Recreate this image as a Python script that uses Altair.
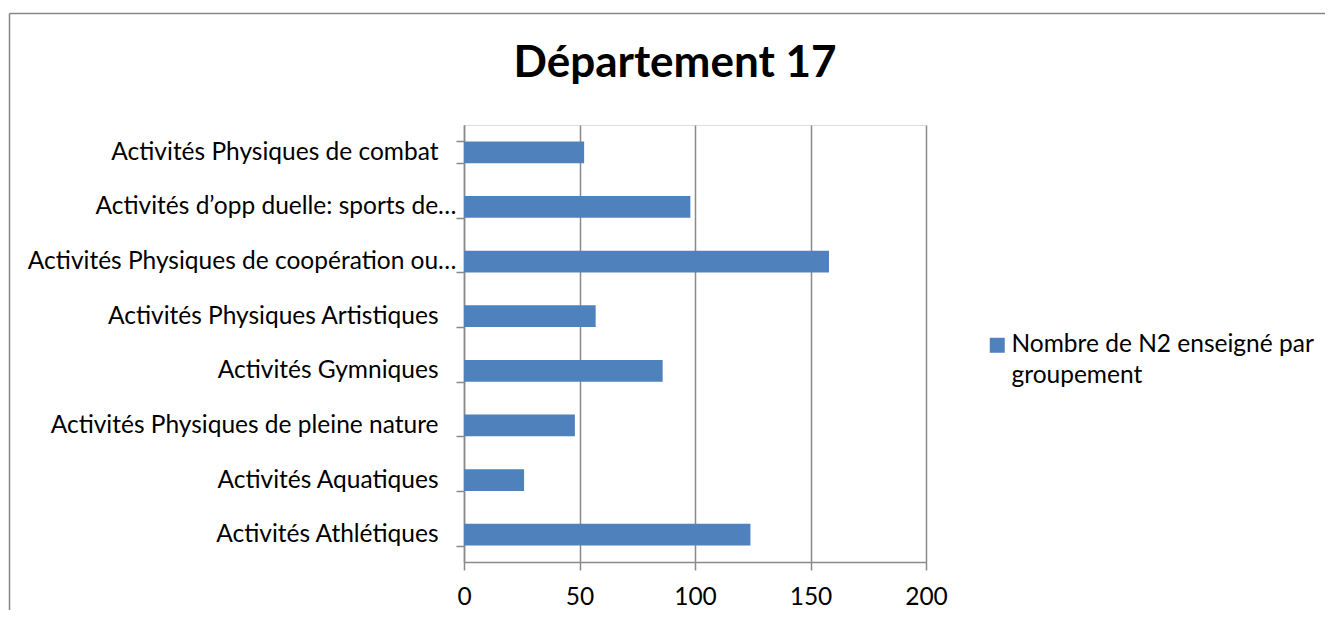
import altair as alt
import pandas as pd

categories = [
    "Activités Physiques de combat",
    "Activités d’opp duelle: sports de…",
    "Activités Physiques de coopération ou…",
    "Activités Physiques Artistiques",
    "Activités Gymniques",
    "Activités Physiques de pleine nature",
    "Activités Aquatiques",
    "Activités Athlétiques",
]
values = [52, 98, 158, 57, 86, 48, 26, 124]
series_name = "Nombre de N2 enseigné par groupement"
legend_lines = ["Nombre de N2 enseigné par", "groupement"]
title_text = "Département 17"

df = pd.DataFrame({"cat": categories, "val": values, "serie": [series_name] * len(values)})

FONT = "Lato"
GRID = "#8a8a8a"
BLUE = "#4F81BD"

W, H = 462, 437
PL, PT = 456, 117
TOTAL_W, TOTAL_H = 1317, 602

legend_expr = "[" + ", ".join("'" + s + "'" for s in legend_lines) + "]"

bars = alt.Chart(df).mark_bar(color=BLUE).encode(
    y=alt.Y(
        "cat:N",
        sort=categories,
        title=None,
        scale=alt.Scale(paddingInner=0.6, paddingOuter=0.3),
        axis=alt.Axis(
            tickBand="extent",
            labelFont=FONT,
            labelFontSize=24.5,
            labelColor="#000000",
            labelPadding={"condition": {"test": "indexof(datum.label, '…') < 0", "value": 18}, "value": 0},
            labelLimit=0,
            tickSize=8,
            tickColor=GRID,
            tickWidth=1.5,
            domainColor=GRID,
            domainWidth=1.5,
            grid=False,
        ),
    ),
    x=alt.X(
        "val:Q",
        title=None,
        scale=alt.Scale(domain=[0, 200], nice=False),
        axis=alt.Axis(
            values=[0, 50, 100, 150, 200],
            labelFont=FONT,
            labelFontSize=24.5,
            labelColor="#000000",
            labelPadding=15,
            tickSize=8,
            tickColor=GRID,
            tickWidth=1.5,
            domainColor=GRID,
            domainWidth=1.5,
            grid=True,
            gridColor=GRID,
            gridWidth=1.5,
            labelFlush=False,
        ),
    ),
    fill=alt.Fill(
        "serie:N",
        scale=alt.Scale(range=[BLUE]),
        legend=alt.Legend(
            title=None,
            orient="none",
            legendX=521,
            legendY=208,
            symbolType="square",
            symbolSize=225,
            symbolStrokeWidth=0,
            symbolOpacity=1,
            labelFont=FONT,
            labelFontSize=24.5,
            labelColor="#000000",
            labelOffset=2,
            labelLimit=0,
            labelExpr=legend_expr,
            padding=0,
        ),
    ),
)

frame_df = pd.DataFrame({"k": [0]})
left_border = alt.Chart(frame_df).mark_rule(color="#868686", strokeWidth=1.5).encode(
    x=alt.value(-454.5), y=alt.value(-111.5), y2=alt.value(700)
)
top_border = alt.Chart(frame_df).mark_rule(color="#868686", strokeWidth=1.5).encode(
    x=alt.value(-454.5), x2=alt.value(1000), y=alt.value(-111.5)
)

chart = (
    alt.layer(bars, left_border, top_border)
    .properties(
        width=W,
        height=H,
        title=alt.TitleParams(
            title_text,
            font=FONT,
            fontSize=44,
            fontWeight="bold",
            color="#000000",
            anchor="middle",
            frame="group",
            baseline="alphabetic",
            offset=-108,
            dx=-20,
        ),
        autosize=alt.AutoSizeParams(type="none"),
        padding={"left": PL, "top": PT, "right": TOTAL_W - PL - W, "bottom": TOTAL_H - PT - H},
    )
    .configure_view(stroke=None)
    .configure(background="white", style={"guide-label": {"lineHeight": 31}})
)

chart.save("out.html", embed_options={"renderer": "svg", "actions": False})
